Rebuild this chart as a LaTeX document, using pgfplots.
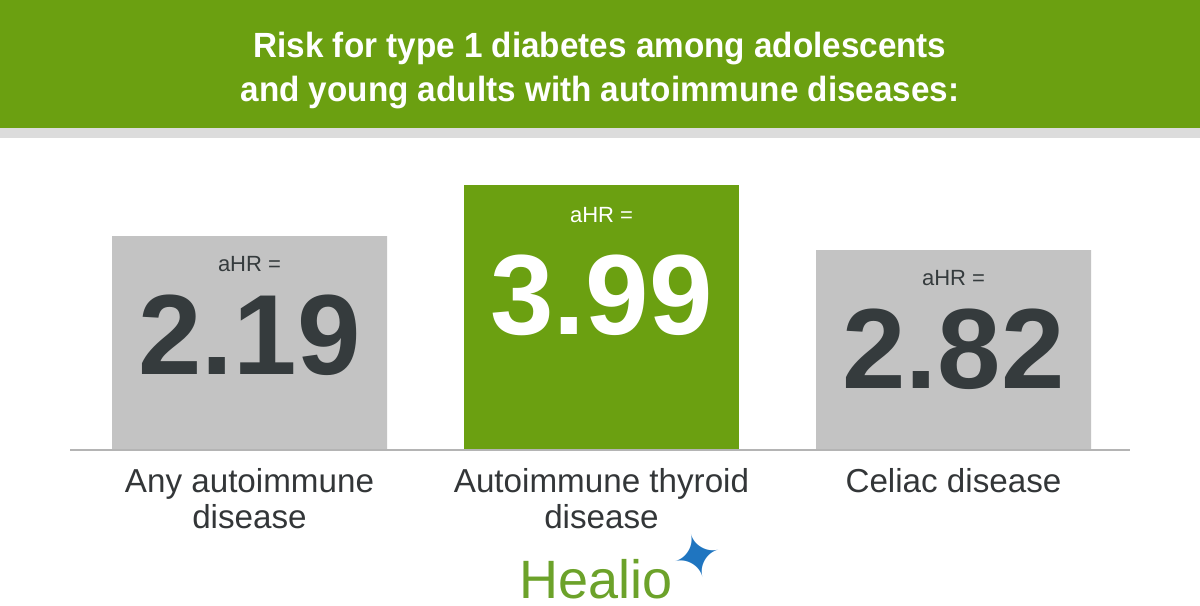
\documentclass[border=0pt]{standalone}
\usepackage{pgfplots}
\pgfplotsset{compat=1.18}
\usepackage{pgfplotstable}
\usepackage{fontspec}
\setmainfont{Liberation Sans}
\newfontfamily\headfont[FakeStretch=0.95]{Liberation Sans}
\newfontfamily\symfont{DejaVu Sans}
\definecolor{hgreen}{HTML}{6BA011}
\definecolor{bargrey}{HTML}{C3C3C3}
\definecolor{darktext}{HTML}{353B3D}
\definecolor{labeltext}{HTML}{333638}
\definecolor{linegrey}{HTML}{B4B4B4}
\definecolor{strip}{HTML}{DCDCDC}
\definecolor{logogreen}{HTML}{6CA22A}
\definecolor{logoblue}{HTML}{1F75C0}

\pgfplotstableread{
x h hr
249.5 214 2.19
953.5 200 2.82
}\greytab
\pgfplotstableread{
x h hr
601.5 265 3.99
}\greentab

\begin{document}
\begin{tikzpicture}
\begin{axis}[
  scale only axis, width=600pt, height=315pt,
  xmin=0, xmax=1200, ymin=-180, ymax=450,
  clip=false,
  axis x line*=middle, axis y line=none,
  axis line style={draw=none},
  major tick length=0pt,
  ytick=\empty,
  xtick={249.5,601.5,953.5},
  xticklabels={{Any autoimmune\\disease},{Autoimmune thyroid\\disease},{Celiac disease}},
  xticklabel style={align=center, anchor=north, yshift=-5.5pt,
    font=\fontsize{16.6}{18}\selectfont, text=labeltext},
]
% header
\fill[hgreen] (axis cs:0,450) rectangle (axis cs:1200,322);
\fill[strip] (axis cs:0,322) rectangle (axis cs:1200,312);
\node[anchor=base, text=white, font=\headfont\bfseries\fontsize{17.5}{22}\selectfont]
  at (axis cs:600,393) {Risk for type 1 diabetes among adolescents};
\node[anchor=base, text=white, font=\headfont\bfseries\fontsize{17.5}{22}\selectfont]
  at (axis cs:600,349) {and young adults with autoimmune diseases:};

% bars
\addplot[ybar, bar width=275, bar shift=0pt, fill=bargrey, draw=none,
  nodes near coords={aHR =},
  every node near coord/.append style={anchor=base, yshift=-17.8pt,
    font=\fontsize{11}{12}\selectfont, text=darktext}]
  table[x=x, y=h] {\greytab};
\addplot[ybar, bar width=275, bar shift=0pt, fill=hgreen, draw=none,
  nodes near coords={aHR =},
  every node near coord/.append style={anchor=base, yshift=-18.5pt,
    font=\fontsize{11}{12}\selectfont, text=white}]
  table[x=x, y=h] {\greentab};

% big values
\addplot[ybar, bar width=275, bar shift=0pt, draw=none, fill=none, forget plot,
  point meta=explicit symbolic,
  nodes near coords,
  every node near coord/.append style={anchor=base, yshift=-69pt,
    font=\bfseries\fontsize{57}{57}\selectfont, text=darktext}]
  table[x=x, y=h, meta=hr] {\greytab};
\addplot[ybar, bar width=275, bar shift=0pt, draw=none, fill=none, forget plot,
  point meta=explicit symbolic,
  nodes near coords,
  every node near coord/.append style={anchor=base, yshift=-74.5pt,
    font=\bfseries\fontsize{57}{57}\selectfont, text=white}]
  table[x=x, y=h, meta=hr] {\greentab};

% baseline
\draw[linegrey, line width=1pt] (axis cs:70,0) -- (axis cs:1130,0);

% logo
\node[anchor=base, text=logogreen, font=\fontsize{27}{27}\selectfont]
  at (axis cs:596,-148) {Healio};
\node[text=logoblue, font=\symfont\fontsize{30}{30}\selectfont, rotate=15]
  at (axis cs:697,-106) {✦};
\end{axis}
\end{tikzpicture}
\end{document}
